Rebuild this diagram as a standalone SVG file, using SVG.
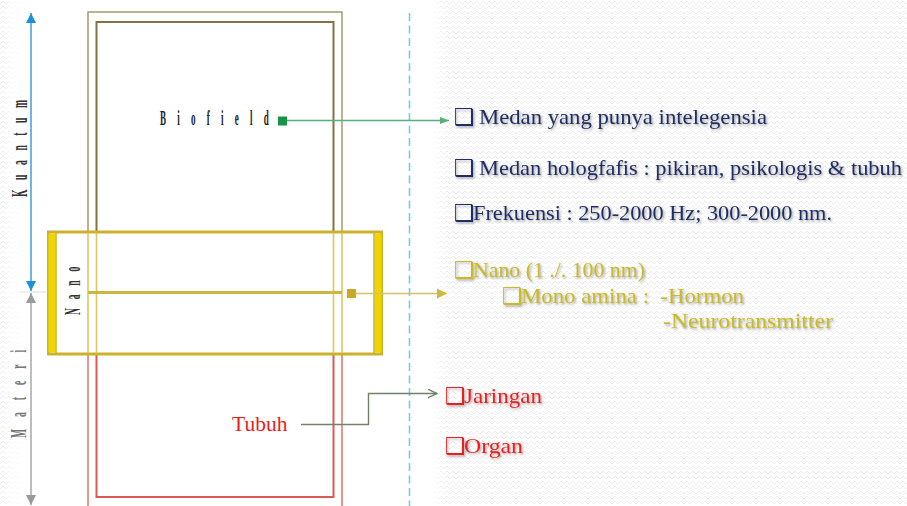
<svg xmlns="http://www.w3.org/2000/svg" width="907" height="506" viewBox="0 0 907 506">
<defs>
<pattern id="zz" width="6" height="5" patternUnits="userSpaceOnUse"><path d="M0 4 L3 1 L6 4" fill="none" stroke="#eeeeee" stroke-width="1"/></pattern>
<linearGradient id="fadeR" x1="0" x2="1" y1="0" y2="0"><stop offset="0" stop-color="#fff" stop-opacity="1"/><stop offset="1" stop-color="#fff" stop-opacity="0"/></linearGradient>
<linearGradient id="fadeL" x1="0" x2="1" y1="0" y2="0"><stop offset="0" stop-color="#fff" stop-opacity="0.4"/><stop offset="1" stop-color="#fff" stop-opacity="1"/></linearGradient>
<filter id="sh" x="-5%" y="-30%" width="110%" height="160%"><feDropShadow dx="1.3" dy="1.6" stdDeviation="1" flood-color="#666" flood-opacity="0.6"/></filter>
<marker id="aBlue" viewBox="0 0 10 10" refX="10" refY="5" markerWidth="10" markerHeight="10" markerUnits="userSpaceOnUse" orient="auto-start-reverse"><path d="M0 0 L10 5 L0 10 Z" fill="#1e90d8"/></marker>
<marker id="aGray" viewBox="0 0 10 10" refX="10" refY="5" markerWidth="10" markerHeight="10" markerUnits="userSpaceOnUse" orient="auto-start-reverse"><path d="M0 0 L10 5 L0 10 Z" fill="#9a9a9a"/></marker>
<marker id="aGreen" viewBox="0 0 10 10" refX="10" refY="5" markerWidth="9" markerHeight="10" markerUnits="userSpaceOnUse" orient="auto"><path d="M0 1 L10 5 L0 9 Z" fill="#55b07a"/></marker>
<marker id="aYel" viewBox="0 0 10 10" refX="10" refY="5" markerWidth="10" markerHeight="11" markerUnits="userSpaceOnUse" orient="auto"><path d="M0 0 L10 5 L0 10 Z" fill="#cdb940"/></marker>
<marker id="aOpen" viewBox="0 0 10 10" refX="9.5" refY="5" markerWidth="10" markerHeight="10" markerUnits="userSpaceOnUse" orient="auto"><path d="M0 0.5 L9.5 5 L0 9.5" fill="none" stroke="#72806a" stroke-width="1.4"/></marker>
</defs>
<style>
.vlab{font-family:"Liberation Serif",serif;font-size:24px;font-weight:bold}
.rt{font-family:"Liberation Serif",serif;font-size:21px;filter:url(#sh)}
.cb{font-family:"DejaVu Sans",sans-serif;font-size:23px;font-weight:bold;filter:url(#sh)}
.navy{fill:#1d2d66}
.yel{fill:#cbbb22}
.red{fill:#ee1c1c}
</style>
<rect width="907" height="506" fill="#fff"/>
<rect width="907" height="506" fill="url(#zz)"/>
<rect x="25" y="0" width="405" height="506" fill="#fff"/>
<rect x="430" y="0" width="18" height="506" fill="url(#fadeR)"/>
<rect x="5" y="0" width="20" height="506" fill="url(#fadeL)"/>

<g id="axis-kuantum">
<line x1="31" y1="13" x2="31" y2="291" stroke="#1e90d8" stroke-width="1.3" marker-start="url(#aBlue)" marker-end="url(#aBlue)"/>
<text class="vlab" fill="#333" letter-spacing="24" transform="translate(27,197) rotate(-90) scale(0.4,1)">Kuantum</text>
</g>
<g id="axis-materi">
<line x1="20" y1="292" x2="46" y2="292" stroke="#ddd" stroke-width="1"/>
<line x1="31" y1="293" x2="31" y2="505" stroke="#9a9a9a" stroke-width="1.3" marker-start="url(#aGray)" marker-end="url(#aGray)"/>
<text class="vlab" fill="#777" letter-spacing="30" transform="translate(26,438) rotate(-90) scale(0.4,1)">Materi</text>
</g>
<g id="divider">
<line x1="409.5" y1="13" x2="409.5" y2="506" stroke="#7ec5e6" stroke-width="1.6" stroke-dasharray="8,4.5"/>
</g>

<g id="biofield">
<rect x="88" y="12" width="254" height="220" fill="none" stroke="#a39b6a" stroke-width="1.5"/>
<path d="M96.5 232 V22 H333.5 V232" fill="none" stroke="#807445" stroke-width="2"/>
<text fill="#222" font-family="'Liberation Serif',serif" font-size="20" font-weight="bold" letter-spacing="25" transform="translate(160,125) scale(0.45,1)">Biofield</text>
<rect x="278" y="116.5" width="9" height="9" fill="#159442"/>
</g>

<g id="tubuh">
<path d="M88 506 V354 M342 354 V506" fill="none" stroke="#e07c76" stroke-width="1.6"/>
<path d="M96.5 354 V497 H333.5 V354" fill="none" stroke="#dd5a52" stroke-width="2"/>
<text x="232" y="431" fill="#ee1c1c" font-family="'Liberation Serif',serif" font-size="21.5">Tubuh</text>
</g>

<g id="nano">
<rect x="48.5" y="232" width="333" height="122" fill="none" stroke="#cbb22a" stroke-width="3"/>
<rect x="48.5" y="233.5" width="7" height="119" fill="#f0d400"/>
<rect x="374.5" y="233.5" width="7" height="119" fill="#f0d400"/>
<line x1="56" y1="233" x2="56" y2="353" stroke="#cbb22a" stroke-width="1.5"/>
<line x1="374" y1="233" x2="374" y2="353" stroke="#cbb22a" stroke-width="1.5"/>
<path d="M88 233 V353 M96.5 233 V353 M333.5 233 V353 M342 233 V353" fill="none" stroke="#d9c865" stroke-width="1.6"/>
<line x1="88" y1="292.5" x2="342" y2="292.5" stroke="#ccb640" stroke-width="3"/>
<text class="vlab" fill="#333" letter-spacing="22" transform="translate(80,315) rotate(-90) scale(0.4,1)">Nano</text>
<rect x="347" y="289" width="9" height="9" fill="#c9a922"/>
</g>

<g id="connectors">
<line x1="287" y1="120.5" x2="449" y2="120.5" stroke="#55b07a" stroke-width="1.4" marker-end="url(#aGreen)"/>
<line x1="356" y1="293.5" x2="447" y2="293.5" stroke="#d2c466" stroke-width="1.5" marker-end="url(#aYel)"/>
<path d="M301 424.5 H368.5 V393.5 H437" fill="none" stroke="#72806a" stroke-width="1.4" marker-end="url(#aOpen)"/>
</g>

<g id="list-biofield">
<text class="cb navy" x="454" y="125">❑</text>
<text class="rt navy" x="479" y="124" textLength="288" lengthAdjust="spacingAndGlyphs">Medan yang punya intelegensia</text>
<text class="cb navy" x="454" y="176">❑</text>
<text class="rt navy" x="479" y="175" textLength="423" lengthAdjust="spacingAndGlyphs">Medan hologfafis : pikiran, psikologis &amp; tubuh</text>
<text class="cb navy" x="454" y="221">❑</text>
<text class="rt navy" x="473" y="220" textLength="359" lengthAdjust="spacingAndGlyphs">Frekuensi : 250-2000 Hz; 300-2000 nm.</text>
</g>
<g id="list-nano">
<text class="cb yel" x="454" y="278">❑</text>
<text class="rt yel" x="473" y="277" textLength="172" lengthAdjust="spacingAndGlyphs">Nano (1 ./. 100 nm)</text>
<text class="cb yel" x="502" y="304">❑</text>
<text class="rt yel" x="521" y="303" textLength="223" lengthAdjust="spacingAndGlyphs" style="white-space:pre">Mono amina :  -Hormon</text>
<text class="rt yel" x="663" y="328" textLength="170" lengthAdjust="spacingAndGlyphs">-Neurotransmitter</text>
</g>
<g id="list-tubuh">
<text class="cb red" x="445" y="404">❑</text>
<text class="rt red" x="464" y="403" textLength="78" lengthAdjust="spacingAndGlyphs">Jaringan</text>
<text class="cb red" x="445" y="454">❑</text>
<text class="rt red" x="464" y="453" textLength="59" lengthAdjust="spacingAndGlyphs">Organ</text>
</g>
</svg>
